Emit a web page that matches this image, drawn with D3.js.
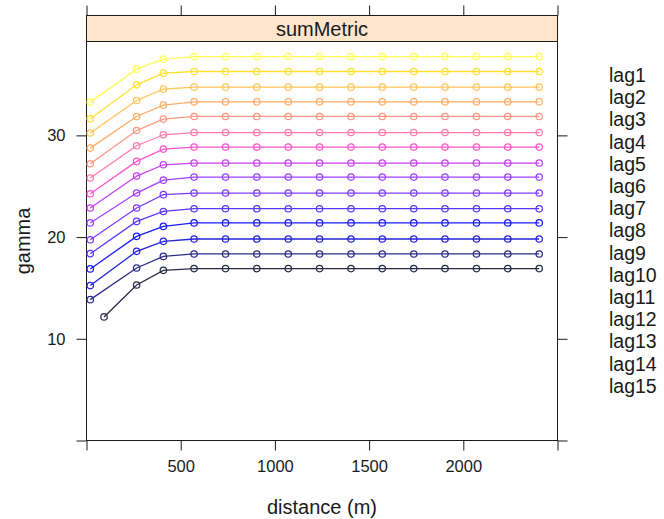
<!DOCTYPE html>
<html><head><meta charset="utf-8">
<script src="https://cdn.jsdelivr.net/npm/d3@7"></script>
<style>
html,body{margin:0;padding:0;background:#fff;}
text{font-family:"Liberation Sans",Arial,sans-serif;fill:#1a1a1a;}
</style></head>
<body><svg id="chart" width="664" height="519"></svg>
<script>
// ---- data ----
const seriesNames = ["lag1","lag2","lag3","lag4","lag5","lag6","lag7","lag8","lag9","lag10","lag11","lag12","lag13","lag14","lag15"];
const distance = [20, 266, 408, 571, 738, 904, 1071, 1237, 1404, 1570, 1737, 1903, 2070, 2236, 2403];
const firstDistance = [20, 20, 20, 20, 20, 20, 20, 20, 20, 20, 20, 20, 20, 20, 93];
const seriesColors = ["#ffff55","#ffe030","#ffc455","#ffac66","#ff9680","#ff7ca8","#ff55cc","#c840f0","#a040ff","#7c3cff","#5a38ff","#1a1aff","#2424d8","#2c2c88","#2a2a48"];
const gamma1  = [33.27, 36.51, 37.49, 37.75, 37.75, 37.75, 37.75, 37.75, 37.75, 37.75, 37.75, 37.75, 37.75, 37.75, 37.75];
const gamma2  = [31.63, 34.97, 36.12, 36.28, 36.28, 36.28, 36.28, 36.28, 36.28, 36.28, 36.28, 36.28, 36.28, 36.28, 36.28];
const gamma3  = [30.23, 33.43, 34.55, 34.74, 34.74, 34.74, 34.74, 34.74, 34.74, 34.74, 34.74, 34.74, 34.74, 34.74, 34.74];
const gamma4  = [28.75, 31.86, 32.98, 33.30, 33.30, 33.30, 33.30, 33.30, 33.30, 33.30, 33.30, 33.30, 33.30, 33.30, 33.30];
const gamma5  = [27.21, 30.48, 31.60, 31.86, 31.86, 31.86, 31.86, 31.86, 31.86, 31.86, 31.86, 31.86, 31.86, 31.86, 31.86];
const gamma6  = [25.81, 28.98, 30.06, 30.28, 30.28, 30.28, 30.28, 30.28, 30.28, 30.28, 30.28, 30.28, 30.28, 30.28, 30.28];
const gamma7  = [24.26, 27.44, 28.65, 28.85, 28.85, 28.85, 28.85, 28.85, 28.85, 28.85, 28.85, 28.85, 28.85, 28.85, 28.85];
const gamma8  = [22.86, 26.00, 27.11, 27.28, 27.28, 27.28, 27.28, 27.28, 27.28, 27.28, 27.28, 27.28, 27.28, 27.28, 27.28];
const gamma9  = [21.39, 24.33, 25.60, 25.90, 25.90, 25.90, 25.90, 25.90, 25.90, 25.90, 25.90, 25.90, 25.90, 25.90, 25.90];
const gamma10 = [19.74, 22.86, 24.17, 24.33, 24.33, 24.33, 24.33, 24.33, 24.33, 24.33, 24.33, 24.33, 24.33, 24.33, 24.33];
const gamma11 = [18.37, 21.54, 22.52, 22.79, 22.79, 22.79, 22.79, 22.79, 22.79, 22.79, 22.79, 22.79, 22.79, 22.79, 22.79];
const gamma12 = [16.87, 20.07, 21.05, 21.39, 21.39, 21.39, 21.39, 21.39, 21.39, 21.39, 21.39, 21.39, 21.39, 21.39, 21.39];
const gamma13 = [15.23, 18.60, 19.58, 19.81, 19.81, 19.81, 19.81, 19.81, 19.81, 19.81, 19.81, 19.81, 19.81, 19.81, 19.81];
const gamma14 = [13.85, 16.96, 18.10, 18.34, 18.34, 18.34, 18.34, 18.34, 18.34, 18.34, 18.34, 18.34, 18.34, 18.34, 18.34];
const gamma15 = [12.15, 15.29, 16.73, 16.90, 16.90, 16.90, 16.90, 16.90, 16.90, 16.90, 16.90, 16.90, 16.90, 16.90, 16.90];
const gammaSeries = [gamma1,gamma2,gamma3,gamma4,gamma5,gamma6,gamma7,gamma8,gamma9,gamma10,gamma11,gamma12,gamma13,gamma14,gamma15];
const xTicks = [0, 500, 1000, 1500, 2000, 2500];
const xTickLabels = ["", "500", "1000", "1500", "2000", ""];
const yTicks = [0, 10, 20, 30];
const yTickLabels = ["", "10", "20", "30"];
const stripLabel = "sumMetric";
const xTitle = "distance (m)";
const yTitle = "gamma";

// ---- layout ----
const svg = d3.select("#chart");
const L = 86.5, R = 557.5, T = 41.5, B = 440.5, stripTop = 15.5;
const x = d3.scaleLinear().domain([0, 2500]).range([L, R]);
const y = d3.scaleLinear().domain([0, 39.23]).range([B, T]);
const lineCol = "#1a1a1a";

// strip
svg.append("rect").attr("x", L).attr("y", stripTop).attr("width", R - L).attr("height", T - stripTop)
  .attr("fill", "#ffe5cc").attr("stroke", lineCol).attr("stroke-width", 1);
svg.append("text").attr("x", (L + R) / 2).attr("y", (stripTop + T) / 2).attr("dy", "0.36em")
  .attr("text-anchor", "middle").attr("font-size", 20).text(stripLabel);

// panel border
svg.append("rect").attr("x", L).attr("y", T).attr("width", R - L).attr("height", B - T)
  .attr("fill", "none").attr("stroke", lineCol).attr("stroke-width", 1);

// axes
const fmtX = (d, i) => xTickLabels[i];
const fmtY = (d, i) => yTickLabels[i];
const axB = svg.append("g").attr("transform", `translate(0,${B})`)
  .call(d3.axisBottom(x).tickValues(xTicks).tickFormat(fmtX).tickSize(10).tickSizeOuter(0).tickPadding(10));
const axT = svg.append("g").attr("transform", `translate(0,${stripTop})`)
  .call(d3.axisTop(x).tickValues(xTicks).tickFormat(() => "").tickSize(10).tickSizeOuter(0));
const axL = svg.append("g").attr("transform", `translate(${L},0)`)
  .call(d3.axisLeft(y).tickValues(yTicks).tickFormat(fmtY).tickSize(10).tickSizeOuter(0).tickPadding(11));
const axR = svg.append("g").attr("transform", `translate(${R},0)`)
  .call(d3.axisRight(y).tickValues(yTicks).tickFormat(() => "").tickSize(10).tickSizeOuter(0));
[axB, axT, axL, axR].forEach(g => {
  g.select(".domain").remove();
  g.selectAll(".tick line").attr("stroke", lineCol);
  g.selectAll("text").attr("font-size", 16.5).attr("fill", "#1a1a1a").attr("font-family", "Liberation Sans, Arial, sans-serif");
});

// titles
svg.append("text").attr("x", (L + R) / 2).attr("y", 507).attr("dy", "0.36em")
  .attr("text-anchor", "middle").attr("font-size", 20).text(xTitle);
svg.append("text").attr("transform", `translate(23,${(T + B) / 2}) rotate(-90)`).attr("dy", "0.36em")
  .attr("text-anchor", "middle").attr("font-size", 20).text(yTitle);

// series
const line = d3.line().x(d => x(d[0])).y(d => y(d[1]));
const plot = svg.append("g");
gammaSeries.forEach((vals, si) => {
  const pts = vals.map((v, i) => [i === 0 ? firstDistance[si] : distance[i], v]);
  const g = plot.append("g").attr("class", "series " + seriesNames[si]);
  g.append("path").attr("d", line(pts)).attr("fill", "none").attr("stroke", seriesColors[si]).attr("stroke-width", 1.3);
  g.selectAll("circle").data(pts).join("circle")
    .attr("cx", d => x(d[0])).attr("cy", d => y(d[1])).attr("r", 3.2)
    .attr("fill", "none").attr("stroke", seriesColors[si]).attr("stroke-width", 1.25);
});

// legend (text only)
svg.append("g").selectAll("text").data(seriesNames).join("text")
  .attr("x", 609).attr("y", (d, i) => 75 + i * 22.2).attr("dy", "0.36em")
  .attr("font-size", 19.5).text(d => d);
</script></body></html>
